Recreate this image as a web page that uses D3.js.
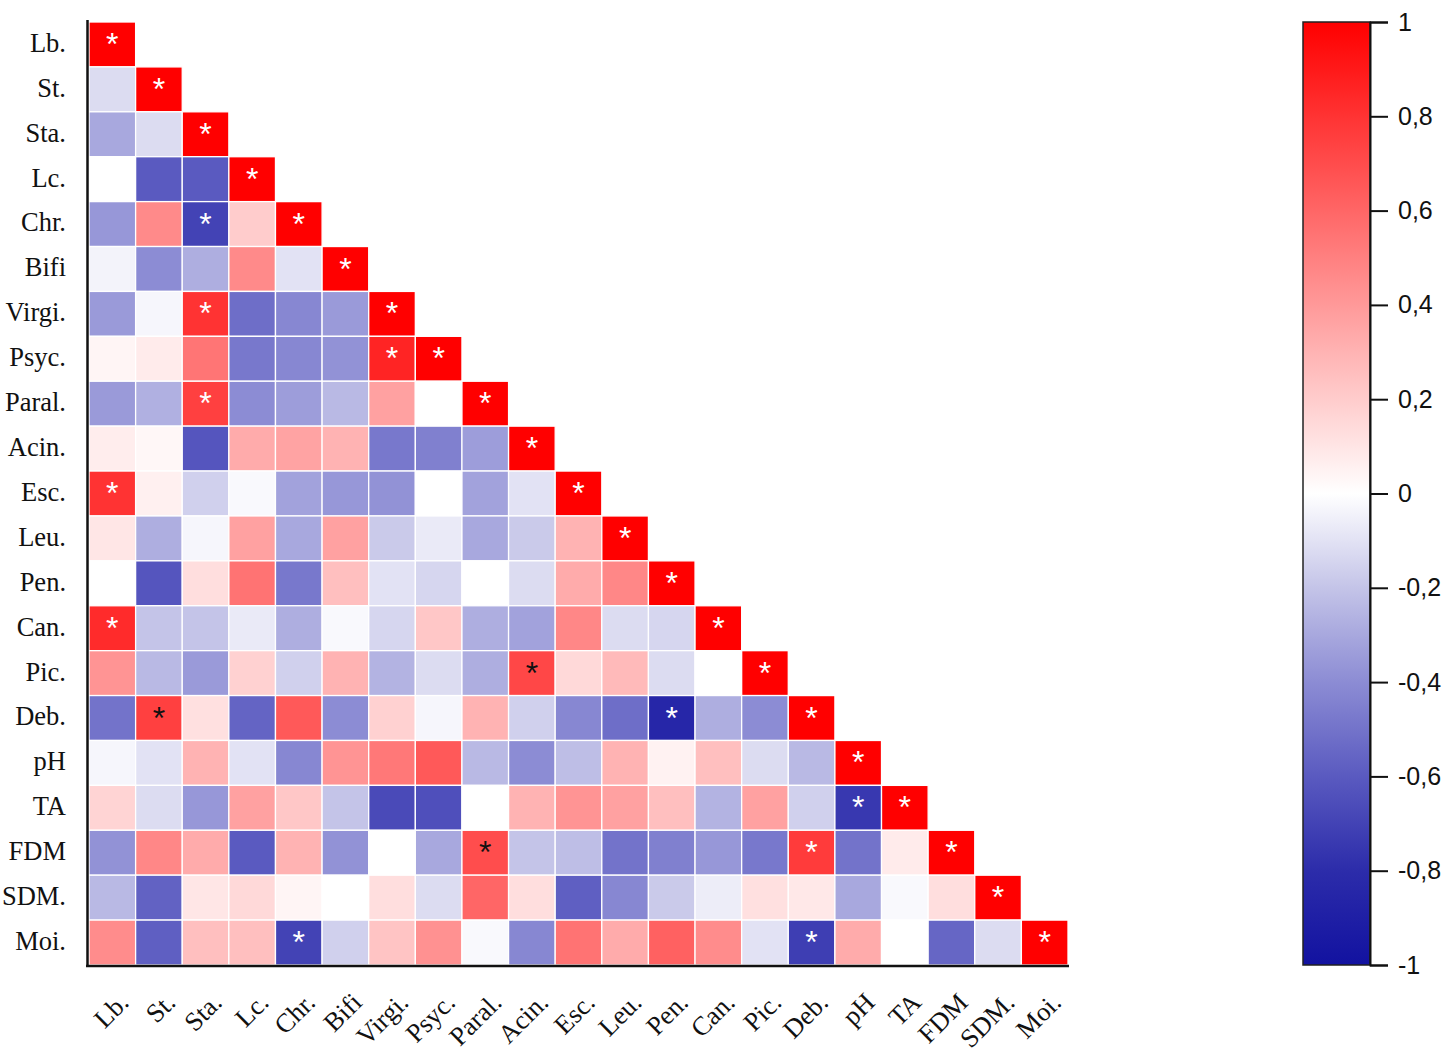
<!DOCTYPE html>
<meta charset="utf-8">
<style>
body { margin: 0; background: #fff; }
svg { background: #fff; }
.rowlab, .collab { font: 26.5px "Liberation Serif", "Times New Roman", serif; fill: #111; }
.cbar text { font: 25px "Liberation Sans", Arial, sans-serif; fill: #111; }
.cbar line, .cbar path { stroke: #111; stroke-width: 2px; }
.star { font: 32px "Liberation Sans", Arial, sans-serif; }
</style>
<body>
<div id="heat"></div>
<script src="https://cdn.jsdelivr.net/npm/d3@7"></script>
<script>

// variable names (rows top->bottom, columns left->right)
var labels = ["Lb.","St.","Sta.","Lc.","Chr.","Bifi","Virgi.","Psyc.","Paral.","Acin.","Esc.",
  "Leu.","Pen.","Can.","Pic.","Deb.","pH","TA","FDM","SDM.","Moi."];

// lower triangle of the correlation matrix
var corr = [
  [1],
  [-0.12, 1],
  [-0.30, -0.12, 1],
  [0, -0.60, -0.60, 1],
  [-0.36, 0.46, -0.70, 0.20, 1],
  [-0.04, -0.40, -0.28, 0.46, -0.10, 1],
  [-0.35, -0.03, 0.80, -0.52, -0.42, -0.35, 1],
  [0.04, 0.08, 0.54, -0.48, -0.42, -0.38, 0.86, 1],
  [-0.35, -0.27, 0.75, -0.40, -0.34, -0.24, 0.37, 0, 1],
  [0.07, 0.03, -0.62, 0.33, 0.36, 0.30, -0.48, -0.45, -0.34, 1],
  [0.80, 0.06, -0.16, -0.02, -0.32, -0.36, -0.38, 0, -0.32, -0.10, 1],
  [0.10, -0.28, -0.03, 0.37, -0.30, 0.37, -0.18, -0.07, -0.30, -0.18, 0.30, 1],
  [0, -0.62, 0.13, 0.55, -0.48, 0.25, -0.10, -0.14, 0, -0.12, 0.33, 0.47, 1],
  [0.83, -0.20, -0.20, -0.07, -0.28, -0.02, -0.14, 0.22, -0.28, -0.32, 0.47, -0.12, -0.14, 1],
  [0.42, -0.24, -0.35, 0.18, -0.16, 0.30, -0.26, -0.12, -0.28, 0.72, 0.15, 0.27, -0.12, 0, 1],
  [-0.50, 0.75, 0.12, -0.56, 0.65, -0.40, 0.18, -0.03, 0.30, -0.16, -0.42, -0.52, -0.85, -0.28, -0.40, 1],
  [-0.03, -0.10, 0.30, -0.10, -0.42, 0.42, 0.53, 0.65, -0.24, -0.40, -0.22, 0.30, 0.05, 0.25, -0.12, -0.24, 1],
  [0.17, -0.12, -0.36, 0.37, 0.22, -0.20, -0.67, -0.65, 0, 0.30, 0.42, 0.37, 0.25, -0.26, 0.37, -0.16, -0.75, 1],
  [-0.38, 0.47, 0.33, -0.60, 0.30, -0.38, 0, -0.30, 0.70, -0.20, -0.22, -0.50, -0.45, -0.36, -0.48, 0.77, -0.50, 0.08, 1],
  [-0.24, -0.57, 0.10, 0.15, 0.04, 0, 0.13, -0.12, 0.60, 0.13, -0.58, -0.42, -0.18, -0.06, 0.12, 0.09, -0.30, -0.02, 0.13, 1],
  [0.45, -0.58, 0.25, 0.25, -0.70, -0.16, 0.23, 0.43, -0.02, -0.42, 0.55, 0.33, 0.62, 0.45, -0.10, -0.72, 0.33, 0, -0.55, -0.12, 1]
];

// significant cells [row, col] (diagonal is always marked)
var sigWhite = [[4,2],[6,2],[7,6],[8,2],[10,0],[13,0],[15,12],[17,16],[18,15],[20,4],[20,15]];
var sigBlack = [[14,9],[15,1],[18,8]];

var barTicks = [1, 0.8, 0.6, 0.4, 0.2, 0, -0.2, -0.4, -0.6, -0.8, -1];
var barLabels = ["1","0,8","0,6","0,4","0,2","0","-0,2","-0,4","-0,6","-0,8","-1"];

var W = 1453, H = 1058;

var svg = d3.select("#heat").append("svg")
  .attr("width", W).attr("height", H);

var x = d3.scaleBand().domain(labels).range([89, 1068]);
var y = d3.scaleBand().domain(labels).range([22, 965]);

var color = d3.scaleLinear()
  .domain([-1, -0.8, -0.6, -0.4, -0.2, 0, 1])
  .range(["#1212a0", "#2c2caa", "#5a5ac0", "#8c8cd4", "#c4c4e8", "#ffffff", "#ff0000"])
  .clamp(true);

// flatten to cells
var cells = [];
corr.forEach(function(row, i) {
  row.forEach(function(v, j) { cells.push({ i: i, j: j, v: v }); });
});

svg.append("g").selectAll("rect")
  .data(cells)
  .enter().append("rect")
  .attr("x", function(d) { return x(labels[d.j]); })
  .attr("y", function(d) { return y(labels[d.i]); })
  .attr("width", x.bandwidth())
  .attr("height", y.bandwidth())
  .attr("fill", function(d) { return color(d.v); })
  .attr("stroke", "#fff")
  .attr("stroke-width", 1.3);

// asterisks
var stars = labels.map(function(l, i) { return { i: i, j: i, c: "#fff" }; })
  .concat(sigWhite.map(function(p) { return { i: p[0], j: p[1], c: "#fff" }; }))
  .concat(sigBlack.map(function(p) { return { i: p[0], j: p[1], c: "#111" }; }));

svg.append("g").selectAll("text")
  .data(stars)
  .enter().append("text")
  .attr("class", "star")
  .attr("text-anchor", "middle")
  .attr("x", function(d) { return x(labels[d.j]) + x.bandwidth() / 2; })
  .attr("y", function(d) { return y(labels[d.i]) + 33; })
  .attr("fill", function(d) { return d.c; })
  .text("*");

// row labels
svg.append("g").selectAll("text")
  .data(labels)
  .enter().append("text")
  .attr("class", "rowlab")
  .attr("text-anchor", "end")
  .attr("x", 66)
  .attr("y", function(d) { return y(d) + y.bandwidth() / 2; })
  .attr("dy", "0.28em")
  .text(function(d) { return d; });

// column labels, rotated
svg.append("g").selectAll("text")
  .data(labels)
  .enter().append("text")
  .attr("class", "collab")
  .attr("text-anchor", "end")
  .attr("transform", function(d) {
    return "translate(" + (x(d) + x.bandwidth() / 2 + 18) + ",1004) rotate(-45)";
  })
  .text(function(d) { return d; });

// axis lines
svg.append("line").attr("x1", 87.5).attr("x2", 87.5).attr("y1", 20).attr("y2", 967)
  .attr("stroke", "#111").attr("stroke-width", 2.5);
svg.append("line").attr("x1", 86).attr("x2", 1069).attr("y1", 966).attr("y2", 966)
  .attr("stroke", "#111").attr("stroke-width", 2.5);

// colour bar
var cb = d3.scaleLinear().domain([-1, 1]).range([965, 22]);
var grad = svg.append("defs").append("linearGradient")
  .attr("id", "cbgrad").attr("x1", 0).attr("x2", 0).attr("y1", 1).attr("y2", 0);
d3.range(-1, 1.001, 0.1).forEach(function(v) {
  grad.append("stop").attr("offset", (v + 1) / 2).attr("stop-color", color(v));
});
svg.append("rect")
  .attr("x", 1303).attr("y", 22).attr("width", 67).attr("height", 943)
  .attr("fill", "url(#cbgrad)")
  .attr("stroke", "#222").attr("stroke-width", 1.5);

svg.append("g")
  .attr("class", "cbar")
  .attr("transform", "translate(1370,0)")
  .call(d3.axisRight(cb).tickValues(barTicks).tickSize(18).tickPadding(10)
    .tickFormat(function(d, i) { return barLabels[i]; }));

</script>
